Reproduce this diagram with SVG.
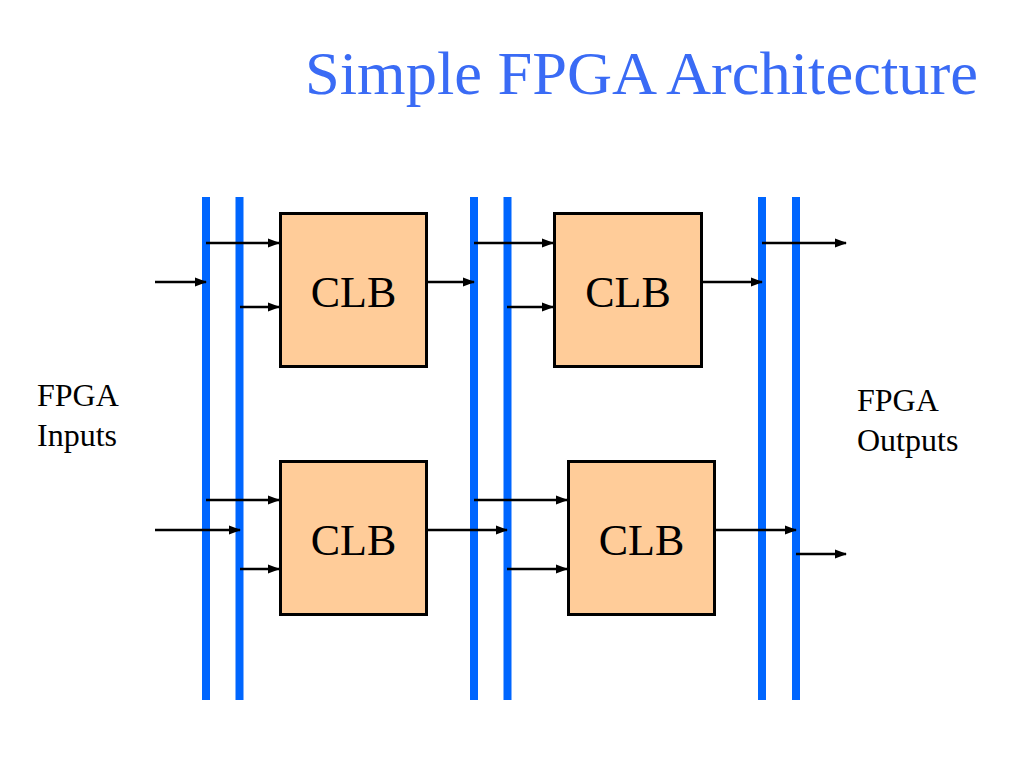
<svg xmlns="http://www.w3.org/2000/svg" width="1024" height="768" viewBox="0 0 1024 768">
<defs>
<style>
.bus{fill:#0066FF}
.clb rect{fill:#FFCC99;stroke:#000;stroke-width:3}
.clb text{font-family:"Liberation Serif","Times New Roman",serif;font-size:44px;fill:#000;text-anchor:middle}
.lbl{font-family:"Liberation Serif","Times New Roman",serif;font-size:32px;fill:#000}
.title{font-family:"Liberation Serif","Times New Roman",serif;font-size:62px;fill:#3A6BF5}
.w{stroke:#000;stroke-width:2.5;fill:none;marker-end:url(#ah)}
</style>
<marker id="ah" markerUnits="userSpaceOnUse" markerWidth="12" markerHeight="10" refX="11" refY="5" orient="auto">
<path d="M0,0.5 L12,5 L0,9.5 Z" fill="#000"/>
</marker>
</defs>
<rect width="1024" height="768" fill="#fff"/>
<text class="title" x="305" y="94" textLength="673" lengthAdjust="spacingAndGlyphs">Simple FPGA Architecture</text>
<g id="buses">
<rect class="bus" x="202" y="197" width="8" height="503"/>
<rect class="bus" x="235.5" y="197" width="8" height="503"/>
<rect class="bus" x="470" y="197" width="8" height="503"/>
<rect class="bus" x="503.5" y="197" width="8" height="503"/>
<rect class="bus" x="758" y="197" width="8" height="503"/>
<rect class="bus" x="792" y="197" width="8" height="503"/>
</g>
<g id="clb1" class="clb"><rect x="280.5" y="213.5" width="146" height="153"/><text x="353.5" y="307">CLB</text></g>
<g id="clb2" class="clb"><rect x="554.5" y="213.5" width="147" height="153"/><text x="628" y="307">CLB</text></g>
<g id="clb3" class="clb"><rect x="280.5" y="461.5" width="146" height="153"/><text x="353.5" y="555">CLB</text></g>
<g id="clb4" class="clb"><rect x="568.5" y="461.5" width="146" height="153"/><text x="641.5" y="555">CLB</text></g>
<g id="connectors">
<line class="w" x1="155" y1="282" x2="206" y2="282"/>
<line class="w" x1="206" y1="243" x2="279" y2="243"/>
<line class="w" x1="240" y1="307" x2="279" y2="307"/>
<line class="w" x1="428" y1="282" x2="474" y2="282"/>
<line class="w" x1="474" y1="243" x2="553" y2="243"/>
<line class="w" x1="507" y1="307" x2="553" y2="307"/>
<line class="w" x1="703" y1="282" x2="762" y2="282"/>
<line class="w" x1="762" y1="243" x2="846" y2="243"/>
<line class="w" x1="155" y1="530" x2="240" y2="530"/>
<line class="w" x1="206" y1="500" x2="279" y2="500"/>
<line class="w" x1="240" y1="569" x2="279" y2="569"/>
<line class="w" x1="428" y1="530" x2="507" y2="530"/>
<line class="w" x1="474" y1="500" x2="567" y2="500"/>
<line class="w" x1="507" y1="569" x2="567" y2="569"/>
<line class="w" x1="716" y1="530" x2="796" y2="530"/>
<line class="w" x1="796" y1="554" x2="846" y2="554"/>
</g>
<g id="inputs"><text class="lbl" x="37" y="406">FPGA</text><text class="lbl" x="37" y="446">Inputs</text></g>
<g id="outputs"><text class="lbl" x="857" y="411">FPGA</text><text class="lbl" x="857" y="451">Outputs</text></g>
</svg>
